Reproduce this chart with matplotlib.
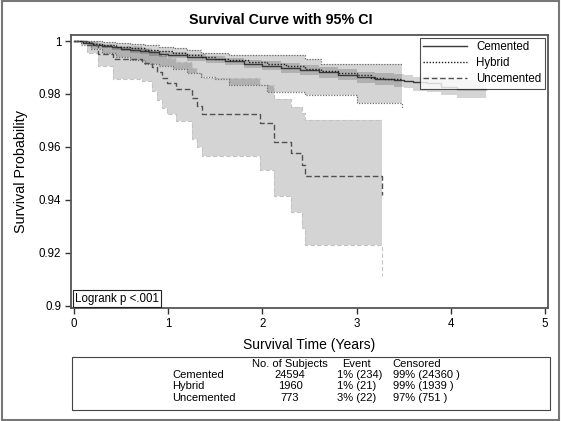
#!/usr/bin/env python

import matplotlib
matplotlib.use("Agg")
import matplotlib.pyplot as plt
from matplotlib.patches import Rectangle

plt.rcParams['font.family'] = ['Liberation Sans', 'DejaVu Sans']

# Cemented (solid)
cem_t = [0, 0.1, 0.2, 0.3, 0.4, 0.5, 0.6, 0.7, 0.8, 0.9, 1.0, 1.2, 1.4, 1.6, 1.8, 2.0,
         2.2, 2.4, 2.6, 2.8, 3.0, 3.2, 3.4, 3.5, 3.6, 3.75, 3.9, 4.06, 4.2, 4.37]
cem_s = [1.0, 0.9993, 0.9987, 0.9981, 0.9976, 0.9971, 0.9966, 0.9961, 0.9957, 0.9952,
         0.9947, 0.9939, 0.9931, 0.9923, 0.9915, 0.9907, 0.9899, 0.9891, 0.9882, 0.9873,
         0.9863, 0.9857, 0.9852, 0.9848, 0.9846, 0.9840, 0.9827, 0.9819, 0.9818, 0.9818]
cem_lo = [1.0, 0.9988, 0.9981, 0.9974, 0.9968, 0.9962, 0.9956, 0.9950, 0.9945, 0.9940,
          0.9935, 0.9926, 0.9917, 0.9908, 0.9899, 0.9890, 0.9881, 0.9872, 0.9862, 0.9852,
          0.9842, 0.9834, 0.9827, 0.9822, 0.9812, 0.9806, 0.9795, 0.9785, 0.9785, 0.9785]
cem_hi = [1.0, 0.9997, 0.9992, 0.9987, 0.9983, 0.9979, 0.9975, 0.9971, 0.9968, 0.9964,
          0.9959, 0.9952, 0.9945, 0.9937, 0.9930, 0.9923, 0.9916, 0.9909, 0.9901, 0.9893,
          0.9884, 0.9878, 0.9874, 0.9870, 0.9866, 0.9864, 0.9858, 0.9853, 0.9853, 0.9853]

# Hybrid (dotted)
hyb_t = [0, 0.08, 0.18, 0.30, 0.45, 0.60, 0.75, 0.90, 1.05, 1.20, 1.35, 1.50, 1.65, 1.85,
         2.05, 2.25, 2.45, 2.62, 2.80, 3.00, 3.15, 3.30, 3.48]
hyb_s = [1.0, 0.9995, 0.9990, 0.9985, 0.9979, 0.9973, 0.9967, 0.9961, 0.9955, 0.9948,
         0.9941, 0.9934, 0.9927, 0.9920, 0.9912, 0.9904, 0.9895, 0.9887, 0.9879, 0.9870,
         0.9862, 0.9855, 0.9855]
hyb_lo = [1.0, 0.9985, 0.9970, 0.9955, 0.9940, 0.9928, 0.9915, 0.9905, 0.9893, 0.9880,
          0.9866, 0.9857, 0.9834, 0.9834, 0.9808, 0.9808, 0.9797, 0.9797, 0.9797, 0.9767,
          0.9767, 0.9767, 0.9748]
hyb_hi = [1.0, 1.0, 0.9999, 0.9997, 0.9993, 0.9989, 0.9984, 0.9979, 0.9972, 0.9965,
          0.9955, 0.9955, 0.9947, 0.9947, 0.9947, 0.9947, 0.9932, 0.9913, 0.9913, 0.9913,
          0.9913, 0.9913, 0.9913]

# Uncemented (dashed)
unc_t = [0, 0.14, 0.26, 0.42, 0.72, 0.83, 0.88, 0.93, 0.99, 1.08, 1.25, 1.31, 1.36, 1.98,
         2.12, 2.30, 2.42, 2.45, 3.27]
unc_s = [1.0, 0.9987, 0.9950, 0.9933, 0.9918, 0.9902, 0.9883, 0.9862, 0.9842, 0.9820,
         0.9785, 0.9755, 0.9725, 0.9691, 0.9620, 0.9578, 0.9533, 0.9490, 0.9420]
unc_lo = [1.0, 0.9955, 0.9906, 0.9858, 0.9850, 0.9812, 0.9778, 0.9748, 0.9725, 0.9696,
          0.9631, 0.9601, 0.9567, 0.9512, 0.9413, 0.9353, 0.9292, 0.9230, 0.9112]
unc_hi = [1.0, 1.0, 0.9988, 0.9982, 0.9975, 0.9968, 0.9958, 0.9948, 0.9935, 0.9922,
          0.9900, 0.9880, 0.9862, 0.9835, 0.9780, 0.9752, 0.9728, 0.9703, 0.9703]

groups = ['Cemented', 'Hybrid', 'Uncemented']
n_subjects = ['24594', '1960', '773']
events = ['1% (234)', '1% (21)', '3% (22)']
censored = ['99% (24360 )', '99% (1939 )', '97% (751 )']

fig = plt.figure(figsize=(5.61, 4.21), dpi=100)
ax = fig.add_axes([0.1266, 0.2684, 0.8502, 0.6485])

band = dict(step='post', color='black', alpha=0.17, linewidth=0)
ax.fill_between(unc_t, unc_lo, unc_hi, **band)
ax.fill_between(hyb_t, hyb_lo, hyb_hi, **band)
ax.fill_between(cem_t, cem_lo, cem_hi, **band)

# band outlines
ax.step(unc_t, unc_lo, where='post', color='#c4c4c4', lw=0.8, ls=(0, (4, 2)))
ax.step(unc_t, unc_hi, where='post', color='#c4c4c4', lw=0.8, ls=(0, (4, 2)))
ax.step(hyb_t, hyb_lo, where='post', color='#707070', lw=0.9, ls=(0, (1, 1.2)))
ax.step(hyb_t, hyb_hi, where='post', color='#707070', lw=0.9, ls=(0, (1, 1.2)))

ax.step(cem_t, cem_s, where='post', color='#383838', lw=1.0, label='Cemented')
ax.step(hyb_t, hyb_s, where='post', color='#202020', lw=1.0, ls=(0, (1, 1.2)), label='Hybrid')
ax.step(unc_t, unc_s, where='post', color='#505050', lw=1.0, ls=(0, (4, 2)), label='Uncemented')

ax.set_xlim(-0.03, 5.03)
ax.set_ylim(0.8991, 1.0023)
ax.set_xticks([0, 1, 2, 3, 4, 5])
ax.set_yticks([0.9, 0.92, 0.94, 0.96, 0.98, 1.0])
ax.set_yticklabels(['0.9', '0.92', '0.94', '0.96', '0.98', '1'])
ax.tick_params(labelsize=8.3, length=4, width=1, color='#333333', pad=3)
for s in ax.spines.values():
    s.set_color('#555555')
    s.set_linewidth(1.3)

fig.text(0.5, 0.952, 'Survival Curve with 95% CI', fontsize=10.3, fontweight='bold',
         ha='center', va='center')
ax.set_xlabel('Survival Time (Years)', fontsize=10, labelpad=6)
ax.set_ylabel('Survival Probability', fontsize=10.4, labelpad=8)

leg = ax.legend(loc='upper right', fontsize=8.3, frameon=True, fancybox=False,
                handlelength=3.8, borderpad=0.3, labelspacing=0.35,
                borderaxespad=0.25, handletextpad=0.8)
leg.get_frame().set_edgecolor('#222222')
leg.get_frame().set_linewidth(0.8)

ax.text(0.008, 0.012, 'Logrank p <.001', transform=ax.transAxes, fontsize=8.3,
        ha='left', va='bottom',
        bbox=dict(boxstyle='square,pad=0.2', fc='white', ec='#222222', lw=0.8))

# summary table
fig.patches.append(Rectangle((0.1283, 0.0261), 0.8517, 0.1259, transform=fig.transFigure,
                             fill=False, ec='#444444', lw=0.8))
hy = 0.1354
rows_y = [0.1093, 0.0831, 0.0546]
fs = 8
fig.text(0.517, hy, 'No. of Subjects', fontsize=fs, ha='center', va='center')
fig.text(0.636, hy, 'Event', fontsize=fs, ha='center', va='center')
fig.text(0.743, hy, 'Censored', fontsize=fs, ha='center', va='center')
for i in range(3):
    fig.text(0.307, rows_y[i], groups[i], fontsize=fs, ha='left', va='center')
    fig.text(0.517, rows_y[i], n_subjects[i], fontsize=fs, ha='center', va='center')
    fig.text(0.600, rows_y[i], events[i], fontsize=fs, ha='left', va='center')
    fig.text(0.700, rows_y[i], censored[i], fontsize=fs, ha='left', va='center')

# outer frame
fig.patches.append(Rectangle((0.003, 0.002), 0.994, 0.995, transform=fig.transFigure,
                             fill=False, ec='#777777', lw=1.5))

fig.savefig('out.png', dpi=100)
